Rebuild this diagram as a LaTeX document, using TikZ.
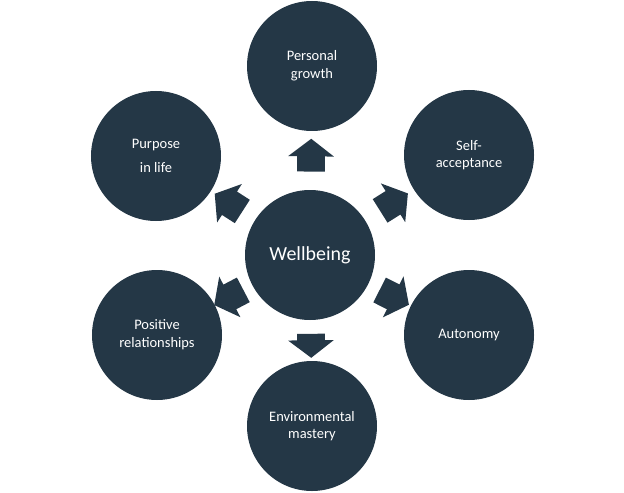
\documentclass[tikz,border=0pt]{standalone}
\usepackage{fontspec}
\setmainfont{Carlito}
\usetikzlibrary{shapes.arrows}
\definecolor{slate}{HTML}{243746}
\begin{document}
\begin{tikzpicture}[
  every node/.style={font=\fontsize{10.3}{12.6}\selectfont,text=white},
  facet/.style={circle,fill=slate,minimum size=3.25cm,inner sep=0pt,align=center},
  blockarrow/.style={single arrow,fill=slate,inner xsep=0pt,inner ysep=0.34cm,
    minimum height=0.82cm,single arrow head extend=0.225cm,single arrow tip angle=105,
    sloped,allow upside down}]
  \useasboundingbox (-7.75,-5.925) rectangle (7.85,6.375);
  \node[facet,font=\fontsize{14.2}{17}\selectfont] (well) at (0,0) {Wellbeing};
  \node[facet] (growth) at (0.05,4.725) {Personal\\growth};
  \node[facet] (self) at (3.975,2.5) {Self-\\acceptance};
  \node[facet] (auto) at (3.975,-2.0) {Autonomy};
  \node[facet] (env) at (0.05,-4.275) {Environmental\\mastery};
  \node[facet] (posrel) at (-3.825,-2.0) {Positive\\relationships};
  \node[facet] (purpose) at (-3.85,2.475) {Purpose\\[4pt]in life};
  % block arrows from the centre
  \path (well) -- (growth) node[midway,blockarrow] (agrowth) {};
  \path (well) -- (self) node[midway,blockarrow] (aself) {};
  \path (well) -- (auto) node[midway,blockarrow] (aauto) {};
  \path (well) -- (env) node[midway,blockarrow,minimum height=0.6cm] (aenv) {};
  \path (well) -- (posrel) node[midway,blockarrow] (aposrel) {};
  \path (well) -- (purpose) node[midway,blockarrow] (apurpose) {};
\end{tikzpicture}
\end{document}
